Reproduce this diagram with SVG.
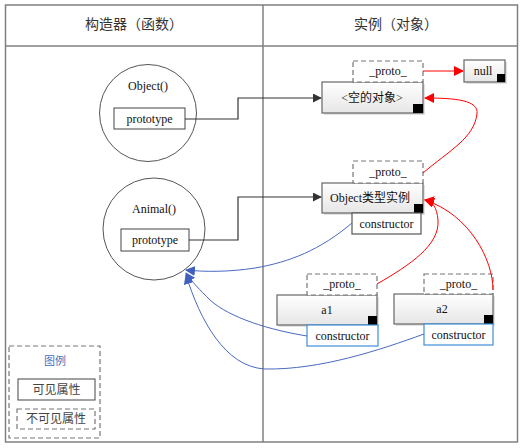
<svg xmlns="http://www.w3.org/2000/svg" width="527" height="448" viewBox="0 0 527 448">
<defs>
<linearGradient id="g" x1="0" y1="0" x2="0" y2="1"><stop offset="0" stop-color="#ffffff"/><stop offset="1" stop-color="#e6e6e6"/></linearGradient>
<marker id="ab" viewBox="0 0 10 10" refX="9" refY="5" markerWidth="9" markerHeight="9" markerUnits="userSpaceOnUse" orient="auto"><path d="M0,0 L10,5 L0,10 z" fill="#333"/></marker>
<marker id="ar" viewBox="0 0 10 10" refX="9" refY="5" markerWidth="10" markerHeight="10" markerUnits="userSpaceOnUse" orient="auto"><path d="M0,0 L10,5 L0,10 z" fill="#ff0000"/></marker>
<marker id="au" viewBox="0 0 10 10" refX="9" refY="5" markerWidth="10" markerHeight="10" markerUnits="userSpaceOnUse" orient="auto"><path d="M0,0 L10,5 L0,10 z" fill="#4060c0"/></marker>
</defs>
<style>
text{font-family:"Liberation Serif","Noto Sans CJK SC",serif;fill:#111;text-anchor:middle;dominant-baseline:central}
.h{font-size:14px;fill:#333}
.t{font-size:12px}
.s{font-size:11px}
.l{font-size:12px;fill:#444}
.frame{fill:none;stroke:#808080;stroke-width:1.5}
.circ{fill:#fff;stroke:#555;stroke-width:1}
.pbox{fill:#fff;stroke:#444;stroke-width:1}
.node{fill:url(#g);stroke:#666;stroke-width:1.2}
.shadow{fill:#e2e2e2}
.dash{fill:#fff;stroke:#777;stroke-width:1.2;stroke-dasharray:5,3}
.blk{fill:#000}
.cb{fill:#fff;stroke:#3f8fd8;stroke-width:1.2}
.cg{fill:#fff;stroke:#555;stroke-width:1.2}
.black{fill:none;stroke:#333;stroke-width:1.2}
.red{fill:none;stroke:#ff0000;stroke-width:1}
.blue{fill:none;stroke:#4a68c0;stroke-width:1}
</style>
<rect x="0" y="0" width="527" height="448" fill="#fff"/>
<g id="frame">
<rect x="5.5" y="5" width="512" height="437" class="frame"/>
<line x1="5.5" y1="46" x2="517.5" y2="46" class="frame"/>
<line x1="263" y1="5" x2="263" y2="442" class="frame"/>
<text x="134" y="24" class="h">构造器（函数）</text>
<text x="396" y="24" class="h">实例（对象）</text>
</g>
<g id="objectCtor">
<circle cx="148" cy="113" r="48.5" class="circ"/>
<text x="148" y="86" class="t">Object()</text>
<rect x="114" y="108" width="71" height="21" class="pbox"/>
<text x="149.5" y="118.5" class="t">prototype</text>
</g>
<g id="animalCtor">
<circle cx="154" cy="229" r="51" class="circ"/>
<text x="154" y="209" class="t">Animal()</text>
<rect x="121" y="229" width="68" height="22" class="pbox"/>
<text x="155" y="240" class="t">prototype</text>
</g>
<g id="emptyObj">
<rect x="324" y="84" width="101" height="31" class="shadow"/>
<rect x="322" y="82" width="101" height="31" class="node"/>
<rect x="413" y="104" width="10" height="9" class="blk"/>
<text x="372" y="97.5" class="t">&lt;空的对象&gt;</text>
</g>
<g id="emptyProto">
<rect x="353" y="61" width="70" height="21" class="dash"/>
<text x="388" y="71" class="t">_proto_</text>
</g>
<g id="null">
<rect x="466" y="62" width="41" height="22" class="shadow"/>
<rect x="464" y="60" width="41" height="22" class="node"/>
<rect x="497" y="74" width="8" height="8" class="blk"/>
<text x="483" y="70.5" class="t">null</text>
</g>
<g id="objInst">
<rect x="324" y="185" width="101" height="30" class="shadow"/>
<rect x="322" y="183" width="101" height="30" class="node"/>
<rect x="414" y="204" width="9" height="9" class="blk"/>
<text x="370" y="197.5" class="t">Object类型实例</text>
<rect x="353" y="161" width="70" height="22" class="dash"/>
<text x="388" y="171.5" class="t">_proto_</text>
<rect x="352" y="213" width="69" height="21" class="cg"/>
<text x="386.5" y="223.5" class="t">constructor</text>
</g>
<g id="a1">
<rect x="279" y="297" width="100" height="30" class="shadow"/>
<rect x="277" y="295" width="100" height="30" class="node"/>
<rect x="368" y="316" width="9" height="9" class="blk"/>
<text x="327" y="309.5" class="t">a1</text>
<rect x="307" y="274" width="70" height="21" class="dash"/>
<text x="342" y="284" class="t">_proto_</text>
<rect x="307" y="325" width="71" height="21" class="cb"/>
<text x="342.5" y="335.5" class="t">constructor</text>
</g>
<g id="a2">
<rect x="396" y="296" width="99" height="30" class="shadow"/>
<rect x="394" y="294" width="99" height="30" class="node"/>
<rect x="484" y="315" width="9" height="9" class="blk"/>
<text x="442" y="309" class="t">a2</text>
<rect x="424" y="274" width="69" height="20" class="dash"/>
<text x="458.5" y="284" class="t">_proto_</text>
<rect x="424" y="324" width="69" height="21" class="cb"/>
<text x="458.5" y="334.5" class="t">constructor</text>
</g>
<g id="legend">
<rect x="9" y="346" width="91" height="92" class="dash"/>
<text x="55" y="361" class="s" style="fill:#3f6fc0">图例</text>
<rect x="18" y="379" width="77" height="21" class="pbox"/>
<text x="56.5" y="389.5" class="l">可见属性</text>
<rect x="17" y="409" width="78" height="20" class="dash"/>
<text x="56" y="419" class="l">不可见属性</text>
</g>
<g id="connectors">
<path d="M185,119 H238 V98 H321" class="black" marker-end="url(#ab)"/>
<path d="M189,240 H238 V197 H321" class="black" marker-end="url(#ab)"/>
<path d="M423,71 H463" class="red" marker-end="url(#ar)"/>
<path d="M423,173 C450,150 474,138 477,114 C479,100 455,98 425,98" class="red" marker-end="url(#ar)"/>
<path d="M377,284 C410,265 440,245 438,220 C437,207 432,201 425,200" class="red" marker-end="url(#ar)"/>
<path d="M493,290 C493,260 470,215 425,200" class="red" marker-end="url(#ar)"/>
<path d="M352,223 C320,250 290,262 255,268 C230,272 205,272 186,270" class="blue" marker-end="url(#au)"/>
<path d="M307,336 C270,330 230,318 210,300 C200,290 192,282 186,273" class="blue" marker-end="url(#au)"/>
<path d="M424,334 C380,350 320,370 265,369 C225,367 200,320 186,275" class="blue" marker-end="url(#au)"/>
</g>
</svg>
